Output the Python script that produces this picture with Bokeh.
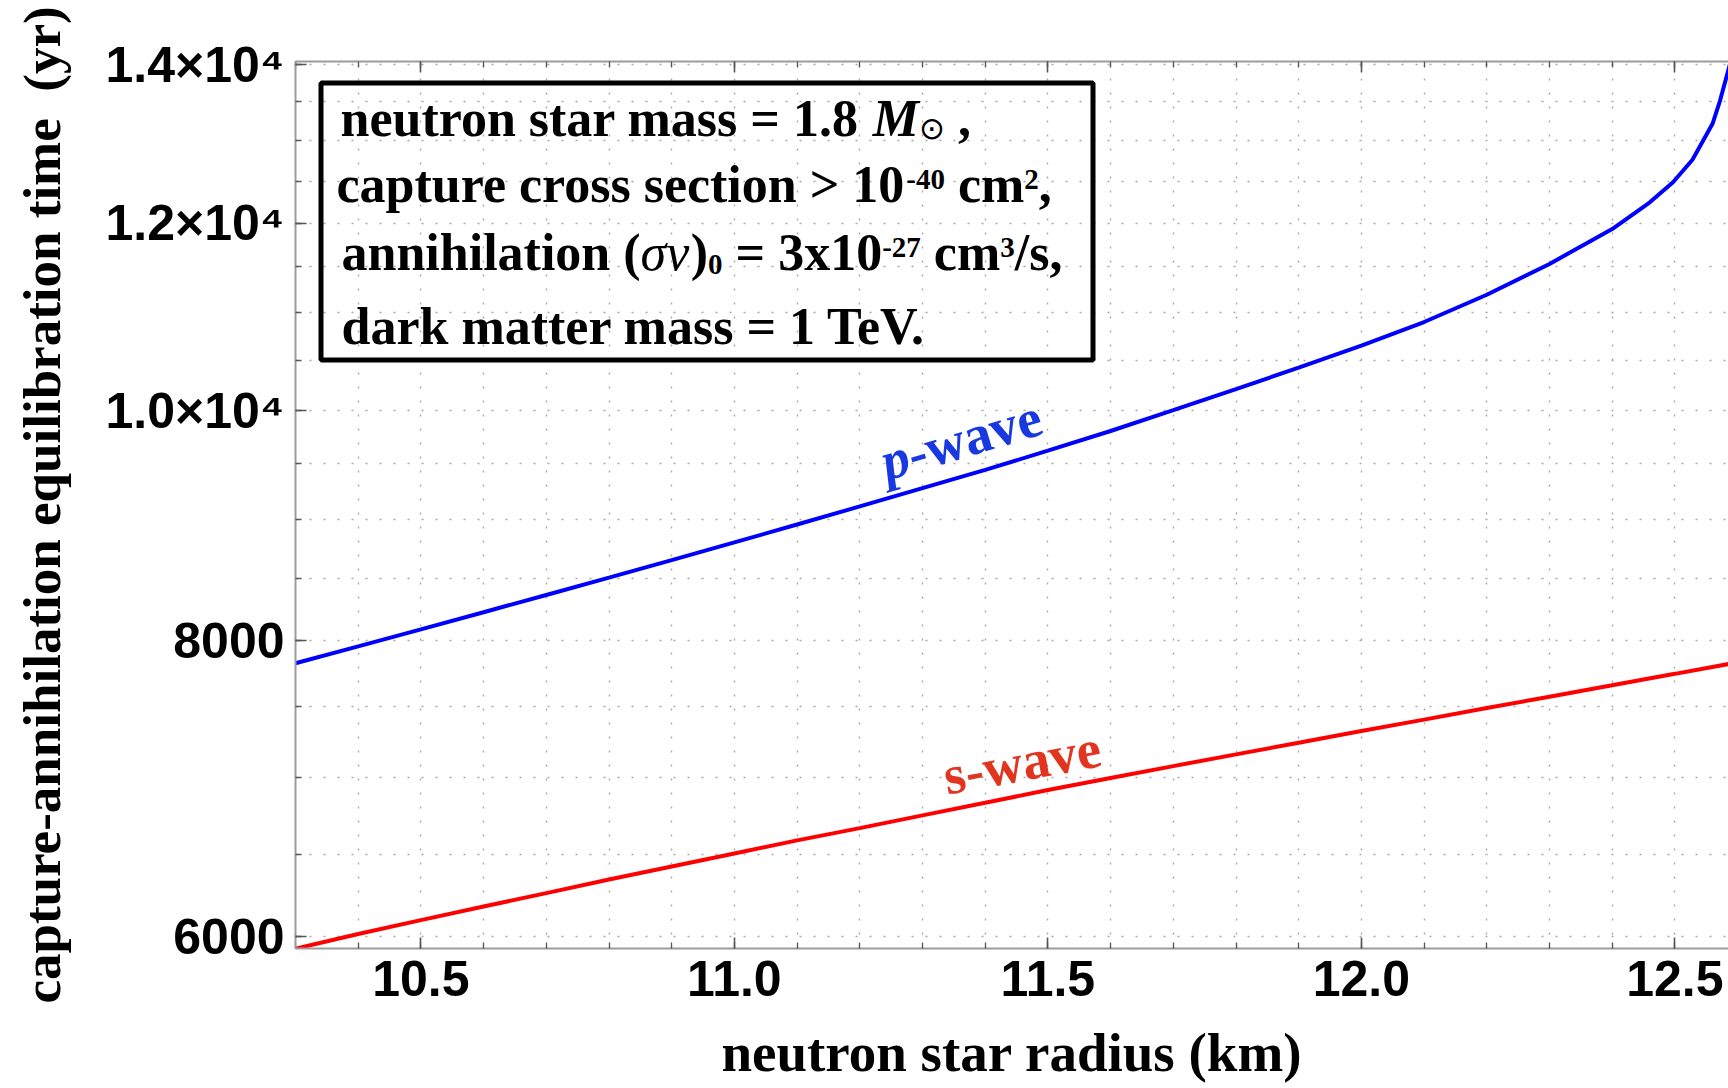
import math
from bokeh.plotting import figure
from bokeh.models import FixedTicker, LinearAxis, Label, BoxAnnotation, Range1d
from bokeh.embed import file_html
from bokeh.resources import INLINE

# ---------------- data ----------------
radius_pwave = [10.3, 10.4, 10.5, 10.6, 10.7, 10.8, 10.9, 11.0, 11.1, 11.2, 11.3, 11.4,
                11.5, 11.6, 11.7, 11.8, 11.9, 12.0, 12.1, 12.2, 12.3, 12.4, 12.46, 12.497,
                12.528, 12.56, 12.572, 12.585, 12.6]
time_pwave = [7825, 7955, 8087, 8223, 8362, 8504, 8650, 8800, 8954, 9113, 9276, 9442,
              9620, 9806, 10007, 10213, 10429, 10653, 10901, 11194, 11534, 11932, 12246, 12486,
              12762, 13216, 13518, 13918, 14400]

radius_swave = [10.3, 10.4, 10.5, 10.6, 10.7, 10.8, 10.9, 11.0, 11.1, 11.2, 11.3, 11.4,
                11.5, 11.6, 11.7, 11.8, 11.9, 12.0, 12.1, 12.2, 12.3, 12.4, 12.5, 12.6]
time_swave = [5930, 6015, 6097, 6178, 6259, 6342, 6423, 6505, 6588, 6667, 6750, 6833,
              6918, 7000, 7081, 7162, 7244, 7326, 7408, 7492, 7575, 7660, 7745, 7832]

x_major_ticks = [10.5, 11.0, 11.5, 12.0, 12.5]
x_tick_labels = ["10.5", "11.0", "11.5", "12.0", "12.5"]
x_minor_ticks = [10.3, 10.4, 10.5, 10.6, 10.7, 10.8, 10.9, 11.0, 11.1, 11.2, 11.3, 11.4,
                 11.5, 11.6, 11.7, 11.8, 11.9, 12.0, 12.1, 12.2, 12.3, 12.4, 12.5, 12.6]
y_major_ticks = [6000, 8000, 10000, 12000, 14000]
y_tick_labels = ["6000", "8000", "1.0\u00d710\u2074", "1.2\u00d710\u2074", "1.4\u00d710\u2074"]
y_minor_ticks = [6000, 6500, 7000, 7500, 8000, 8500, 9000, 9500, 10000, 10500, 11000,
                 11500, 12000, 12500, 13000, 13500, 14000]

x_title = "neutron star radius (km)"
y_title = "capture-annihilation equilibration time\u00a0 (yr)"

# ---------------- layout ----------------
W, H = 1728, 1088
FL, FR, FT, FB = 295, 1728, 61, 948
PX_PER_KM = 627.0
PX_PER_DEC = 2370.0
X_START = 10.3
REF_V, REF_PY = 14000.0, 64.0
BASE_SHIFT = 0.35   # label anchor sits this many em above the visual baseline


def xd(px):
    return X_START + (px - FL) / PX_PER_KM


def yd(py):
    return 10 ** (math.log10(REF_V) - (py - REF_PY) / PX_PER_DEC)


p = figure(width=W, height=H, x_range=Range1d(X_START, xd(FR)),
           y_range=Range1d(yd(FB), yd(FT)), y_axis_type="log",
           output_backend="svg", toolbar_location=None, title=None,
           min_border_left=FL, min_border_right=W - FR,
           min_border_top=FT, min_border_bottom=H - FB)
p.outline_line_color = None
p.background_fill_color = "white"
p.border_fill_color = "white"

AX_COLOR = "#9c9c9c"
TICK_COLOR = "#555555"
SERIF = "Liberation Serif"


def style_axis(ax):
    ax.axis_line_color = AX_COLOR
    ax.axis_line_width = 2
    ax.major_tick_line_color = TICK_COLOR
    ax.minor_tick_line_color = TICK_COLOR
    ax.major_tick_line_width = 1.6
    ax.minor_tick_line_width = 1.3
    ax.major_tick_in = 11
    ax.major_tick_out = 0
    ax.minor_tick_in = 6
    ax.minor_tick_out = 0
    ax.major_label_text_font = "Liberation Sans"
    ax.major_label_text_font_style = "bold"
    ax.major_label_text_font_size = "50px"
    ax.major_label_text_color = "black"
    ax.axis_label_text_font = SERIF
    ax.axis_label_text_font_style = "bold"
    ax.axis_label_text_color = "black"


xa = p.xaxis[0]
xa.ticker = FixedTicker(ticks=x_major_ticks, minor_ticks=x_minor_ticks)
xa.major_label_overrides = {v: s for v, s in zip(x_major_ticks, x_tick_labels)}
style_axis(xa)
xa.major_label_standoff = 12
xa.axis_label = x_title
xa.axis_label_text_font_size = "55px"
xa.axis_label_standoff = 23

ya = p.yaxis[0]
ya.ticker = FixedTicker(ticks=y_major_ticks, minor_ticks=y_minor_ticks)
ya.major_label_overrides = {v: s for v, s in zip(y_major_ticks, y_tick_labels)}
style_axis(ya)
ya.major_label_standoff = 11
ya.axis_label = y_title
ya.axis_label_text_font_size = "53px"
ya.axis_label_standoff = 31

top = LinearAxis(ticker=FixedTicker(ticks=x_major_ticks, minor_ticks=x_minor_ticks))
style_axis(top)
top.major_label_text_font_size = "2px"
top.major_label_text_color = None
top.major_label_standoff = 0
p.add_layout(top, "above")

for g, ticks in ((p.xgrid[0], x_minor_ticks), (p.ygrid[0], y_minor_ticks)):
    g.ticker = FixedTicker(ticks=ticks)
    g.grid_line_color = "#a9a9a9"
    g.grid_line_dash = "2 12"
    g.grid_line_width = 1.4

# ---------------- curves ----------------
p.line(radius_pwave, time_pwave, line_color="#0000ff", line_width=4)
p.line(radius_swave, time_swave, line_color="#ff0000", line_width=4)

# ---------------- annotation box ----------------
p.add_layout(BoxAnnotation(left=xd(320.5), right=xd(1092.5), top=yd(82.5), bottom=yd(359.5),
                           fill_color=None, fill_alpha=0, line_color="black",
                           line_alpha=1.0, line_width=5))

# advance widths (em) used to lay out text fragments
W_BOLD = {' ': .25, '(': .333, ')': .333, ',': .25, '-': .333, '.': .25, '/': .278,
          '=': .57, '>': .57, 'a': .5, 'c': .444, 'd': .556, 'e': .444, 'h': .556,
          'i': .278, 'k': .556, 'l': .278, 'm': .833, 'n': .556, 'o': .5, 'p': .556,
          'r': .444, 's': .389, 't': .333, 'u': .556, 'v': .5, 'w': .722, 'x': .5,
          'M': .944, 'T': .667, 'V': .722}
W_ITAL = {'\u03c3': .52, 'v': .444, 'M': .889, 'p': .5, 's': .389}
W_SYM = {'\u2299': .838}


def em_width(text, table):
    return sum(table.get(ch, .5) for ch in text)


F = 52
S = 29
RAISE = 13
LOWER = 4


def add_line(frags, x0, base):
    x = x0
    for text, font, style, size, dy, table in frags:
        lead = len(text) - len(text.lstrip(' '))
        shown = text.strip(' ')
        xs = x + em_width(' ' * lead, table) * size
        ys = base - dy - BASE_SHIFT * size
        p.add_layout(Label(x=xd(xs), y=yd(ys), text=shown, text_font=font,
                           text_font_style=style, text_font_size=f"{size}px",
                           text_color="black", text_align="left",
                           text_baseline="alphabetic"))
        x += em_width(text, table) * size


add_line([("neutron star mass = 1.8 ", SERIF, "bold", F, 0, W_BOLD),
          ("M", SERIF, "bold italic", F, 0, W_ITAL),
          ("\u2299", "DejaVu Sans", "normal", 31, -2, W_SYM),
          (" ,", SERIF, "bold", F, 0, W_BOLD)], 340, 136)
add_line([("capture cross section > 10", SERIF, "bold", F, 0, W_BOLD),
          ("-40", SERIF, "bold", S, RAISE, W_BOLD),
          (" cm", SERIF, "bold", F, 0, W_BOLD),
          ("2", SERIF, "bold", S, RAISE, W_BOLD),
          (",", SERIF, "bold", F, 0, W_BOLD)], 336, 202)
add_line([("annihilation (", SERIF, "bold", F, 0, W_BOLD),
          ("\u03c3v", SERIF, "italic", F, 0, W_ITAL),
          (")", SERIF, "bold", F, 0, W_BOLD),
          ("0", SERIF, "bold", S, -LOWER, W_BOLD),
          (" = 3x10", SERIF, "bold", F, 0, W_BOLD),
          ("-27", SERIF, "bold", S, RAISE, W_BOLD),
          (" cm", SERIF, "bold", F, 0, W_BOLD),
          ("3", SERIF, "bold", S, RAISE, W_BOLD),
          ("/s,", SERIF, "bold", F, 0, W_BOLD)], 341, 270)
add_line([("dark matter mass = 1 TeV.", SERIF, "bold", F, 0, W_BOLD)], 341, 344)


# ---------------- curve labels (rotated) ----------------
def add_rotated(frags, x0, y0, deg, color, size):
    th = math.radians(deg)
    # move anchor up (perpendicular to the baseline) to compensate the label anchor
    x = x0 - BASE_SHIFT * size * math.sin(th)
    y = y0 - BASE_SHIFT * size * math.cos(th)
    for text, style, table in frags:
        p.add_layout(Label(x=xd(x), y=yd(y), text=text, text_font=SERIF,
                           text_font_style=style, text_font_size=f"{size}px",
                           text_color=color, angle=th, text_align="left",
                           text_baseline="alphabetic"))
        w = em_width(text, table) * size
        x += w * math.cos(th)
        y -= w * math.sin(th)


add_rotated([("p", "bold italic", W_ITAL), ("-wave", "bold", W_BOLD)], 887, 481, 16.7, "#1838e2", 55)
add_rotated([("s-wave", "bold", W_BOLD)], 947, 795, 10.5, "#e2351f", 55)

open("out.html", "w").write(file_html(p, INLINE))
